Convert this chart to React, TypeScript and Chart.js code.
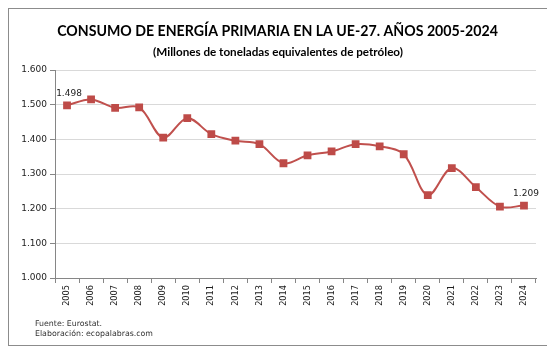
import React, { useEffect, useRef } from "react";
import { Chart, registerables } from "chart.js";

Chart.register(...registerables);

const years = [
  "2005", "2006", "2007", "2008", "2009", "2010", "2011", "2012", "2013", "2014",
  "2015", "2016", "2017", "2018", "2019", "2020", "2021", "2022", "2023", "2024",
];
const consumo = [
  1498, 1515, 1491, 1492, 1405, 1461, 1415, 1396, 1386, 1331,
  1354, 1365, 1386, 1380, 1357, 1239, 1317, 1262, 1206, 1209,
];
const labeledIndices = [0, 19];
const yTicks = [1000, 1100, 1200, 1300, 1400, 1500, 1600];

const titleText = "CONSUMO DE ENERGÍA PRIMARIA EN LA UE-27. AÑOS 2005-2024";
const subtitleText = "(Millones de toneladas equivalentes de petróleo)";
const footnotes = ["Fuente: Eurostat.", "Elaboración: ecopalabras.com"];

const W = 539;
const H = 336;

function fmt(v: number): string {
  const n = Math.round(v);
  const th = Math.floor(n / 1000);
  const rest = String(n % 1000).padStart(3, "0");
  return th > 0 ? `${th}.${rest}` : String(n);
}

function fitFont(ctx: CanvasRenderingContext2D, text: string, weight: string, family: string, target: number): string {
  ctx.font = `${weight} 100px ${family}`;
  const w = ctx.measureText(text).width;
  const size = (100 * target) / w;
  return `${weight} ${size.toFixed(2)}px ${family}`;
}

const textPlugin = {
  id: "textPlugin",
  afterDraw(chart: any) {
    const ctx: CanvasRenderingContext2D = chart.ctx;
    ctx.save();
    ctx.fillStyle = "#000000";
    ctx.textAlign = "center";
    ctx.textBaseline = "middle";
    ctx.font = fitFont(ctx, titleText, "bold", "Lato, sans-serif", 441);
    ctx.fillText(titleText, 268.5, 22.5);
    ctx.font = fitFont(ctx, subtitleText, "bold", "Lato, sans-serif", 250);
    ctx.fillText(subtitleText, 269, 43);

    ctx.textAlign = "left";
    ctx.fillStyle = "#333333";
    ctx.font = fitFont(ctx, footnotes[1], "normal", "'DejaVu Sans', sans-serif", 118);
    ctx.fillText(footnotes[0], 26, 315);
    ctx.fillText(footnotes[1], 26, 325);

    const meta = chart.getDatasetMeta(0);
    ctx.textAlign = "center";
    ctx.fillStyle = "#222222";
    ctx.font = "9px 'DejaVu Sans', sans-serif";
    labeledIndices.forEach((i) => {
      const p = meta.data[i];
      if (!p) return;
      ctx.fillText(fmt(consumo[i]), p.x + 2, p.y - 12);
    });
    ctx.restore();
  },
};

export default function App() {
  const ref = useRef<HTMLCanvasElement | null>(null);

  useEffect(() => {
    if (!ref.current) return;
    const chart = new Chart(ref.current, {
      type: "line",
      data: {
        labels: years,
        datasets: [
          {
            data: consumo,
            borderColor: "#c0504d",
            backgroundColor: "#be4b48",
            borderWidth: 2,
            tension: 0.35,
            pointStyle: "rect",
            pointRadius: 5.5,
            pointBorderWidth: 0,
            pointBackgroundColor: "#be4b48",
            pointBorderColor: "#be4b48",
            fill: false,
          },
        ],
      },
      options: {
        responsive: false,
        animation: false,
        devicePixelRatio: 1,
        layout: { padding: { top: 61, right: 12, bottom: 0, left: 0 } },
        plugins: {
          legend: { display: false },
          title: { display: false },
          tooltip: { enabled: false },
        },
        scales: {
          x: {
            offset: true,
            afterFit: (s: any) => {
              s.height = 67;
            },
            grid: {
              offset: true,
              drawOnChartArea: false,
              drawTicks: true,
              tickLength: 5,
              tickColor: "#868686",
              color: "#868686",
            },
            border: { display: true, color: "#868686", width: 1 },
            ticks: {
              autoSkip: false,
              minRotation: 90,
              maxRotation: 90,
              padding: 2,
              color: "#222222",
              font: { family: "'DejaVu Sans', sans-serif", size: 8.2 },
            },
          },
          y: {
            min: 1000,
            max: 1600,
            afterFit: (s: any) => {
              s.width = 46;
            },
            afterBuildTicks: (s: any) => {
              s.ticks = yTicks.map((v) => ({ value: v }));
            },
            grid: {
              color: "#d9d9d9",
              tickColor: "#868686",
              tickLength: 5,
              drawTicks: true,
            },
            border: { display: true, color: "#868686", width: 1 },
            ticks: {
              padding: 3,
              color: "#222222",
              font: { family: "'DejaVu Sans', sans-serif", size: 9 },
              callback: (v: any) => fmt(Number(v)),
            },
          },
        },
      },
      plugins: [textPlugin],
    });
    return () => chart.destroy();
  }, []);

  return (
    <div
      style={{
        width: W,
        height: H,
        border: "1px solid #8c8c8c",
        background: "#ffffff",
      }}
    >
      <canvas ref={ref} width={W} height={H} style={{ display: "block", width: W, height: H }} />
    </div>
  );
}
